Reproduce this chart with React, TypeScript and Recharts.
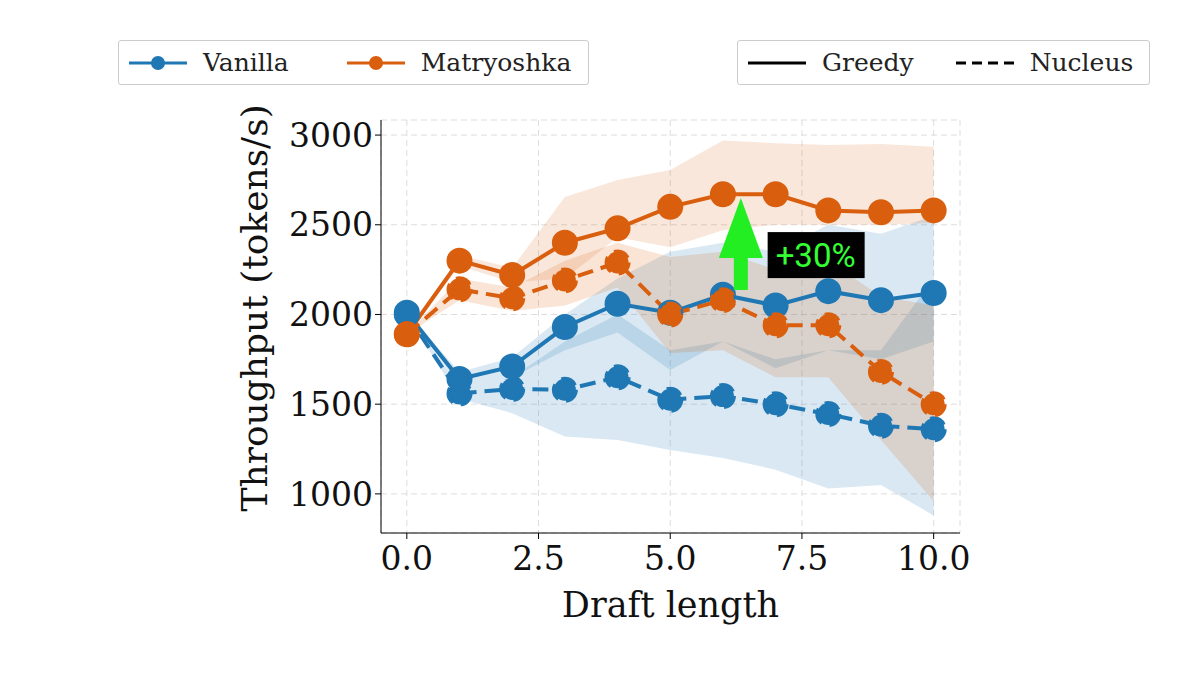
import React from "react";
import { ComposedChart, Line, Area, XAxis, YAxis, CartesianGrid, ReferenceDot } from "recharts";

const draftLen = [0, 1, 2, 3, 4, 5, 6, 7, 8, 9, 10];
const vanillaGreedy = [2010, 1640, 1710, 1930, 2060, 2010, 2110, 2050, 2130, 2080, 2120];
const vanillaNucleus = [2000, 1560, 1585, 1580, 1650, 1525, 1545, 1500, 1445, 1380, 1360];
const matGreedy = [1890, 2300, 2220, 2400, 2480, 2600, 2670, 2670, 2580, 2570, 2580];
const matNucleus = [1890, 2140, 2090, 2190, 2290, 2000, 2080, 1940, 1940, 1680, 1500];
const vgLo = [2010, 1600, 1650, 1800, 1900, 1690, 1850, 1700, 1800, 1750, 1850];
const vgHi = [2010, 1680, 1760, 2000, 2200, 2350, 2400, 2350, 2500, 2450, 2550];
const vnLo = [2000, 1530, 1450, 1320, 1300, 1245, 1200, 1135, 1030, 1050, 880];
const vnHi = [2000, 1600, 1650, 1850, 2000, 1800, 1850, 1750, 1800, 1800, 2200];
const mgLo = [1890, 2270, 2180, 2200, 2430, 2375, 2470, 2500, 2500, 2500, 2510];
const mgHi = [1890, 2330, 2260, 2655, 2750, 2805, 2970, 2955, 2945, 2950, 2935];
const mnLo = [1890, 2080, 2020, 2050, 2150, 1785, 1800, 1650, 1650, 1300, 960];
const mnHi = [1890, 2200, 2150, 2300, 2400, 2320, 2350, 2250, 2300, 2100, 2050];
const xTicks = [0, 2.5, 5, 7.5, 10];
const yTicks = [1000, 1500, 2000, 2500, 3000];

const BLUE = "#1f77b4";
const ORANGE = "#d95f0e";
const data = draftLen.map((x, i) => ({
  x, vg: vanillaGreedy[i], vn: vanillaNucleus[i], mg: matGreedy[i], mn: matNucleus[i],
  vgB: [vgLo[i], vgHi[i]], vnB: [vnLo[i], vnHi[i]], mgB: [mgLo[i], mgHi[i]], mnB: [mnLo[i], mnHi[i]],
}));

const font = "'DejaVu Serif', serif";

const Arrow = (p: any) => (
  <g>
    <rect x={p.cx - 7} y={p.cy - 2} width={14} height={34} fill="#22ee22" />
    <polygon points={`${p.cx - 22},${p.cy} ${p.cx + 22},${p.cy} ${p.cx},${p.cy - 60}`} fill="#22ee22" />
  </g>
);
const Label30 = (p: any) => (
  <g>
    <rect x={p.cx - 48} y={p.cy - 23} width={97} height={46} fill="#000" />
    <text x={p.cx} y={p.cy + 12} textAnchor="middle" fill="#33ff33" fontSize={33} fontFamily="Roboto, sans-serif">+30%</text>
  </g>
);

const legendBox: React.CSSProperties = {
  position: "absolute", top: 40, height: 45, border: "1px solid #ccc", borderRadius: 3, background: "#fff",
  display: "flex", alignItems: "center", fontFamily: font, fontSize: 25, color: "#222", boxSizing: "border-box",
};
const Item = ({ color, dash, dot, label }: any) => (
  <div style={{ display: "flex", alignItems: "center", marginLeft: 8, marginRight: 14 }}>
    <svg width={62} height={20}>
      <line x1={2} y1={10} x2={60} y2={10} stroke={color} strokeWidth={3} strokeDasharray={dash ? "10 6" : undefined} />
      {dot && <circle cx={31} cy={10} r={7} fill={color} />}
    </svg>
    <span style={{ marginLeft: 14 }}>{label}</span>
  </div>
);

export default function App() {
  return (
    <div style={{ position: "relative", width: 1200, height: 675, margin: -8, background: "#fff" }}>
      <div style={{ ...legendBox, left: 118, width: 471 }}>
        <Item color={BLUE} dot label="Vanilla" />
        <div style={{ width: 34 }} />
        <Item color={ORANGE} dot label="Matryoshka" />
      </div>
      <div style={{ ...legendBox, left: 737, width: 413 }}>
        <Item color="#000" label="Greedy" />
        <div style={{ width: 18 }} />
        <Item color="#000" dash label="Nucleus" />
      </div>
      <div style={{ position: "absolute", left: 0, top: 0 }}>
        <ComposedChart width={1200} height={675} data={data} margin={{ top: 120, right: 240, bottom: 52, left: 281 }}>
          <CartesianGrid stroke="#ddd" strokeDasharray="6 4" />
          <XAxis dataKey="x" type="number" domain={[-0.49, 10.5]} ticks={xTicks} tickFormatter={(v) => v.toFixed(1)}
            stroke="#000" tick={{ fill: "#111", fontSize: 33, fontFamily: font }} tickSize={6} tickMargin={8} height={90}
            label={{ value: "Draft length", position: "insideBottom", offset: 6, fill: "#111", fontSize: 35, fontFamily: font }} />
          <YAxis type="number" domain={[782, 3084]} ticks={yTicks} stroke="#000" width={100} tickSize={6}
            tick={{ fill: "#111", fontSize: 33, fontFamily: font }}
            label={{ value: "Throughput (tokens/s)", angle: -90, position: "insideLeft", offset: -27, dy: 185, fill: "#111", fontSize: 36, fontFamily: font }} />
          <Area dataKey="vnB" stroke="none" fill={BLUE} fillOpacity={0.17} isAnimationActive={false} />
          <Area dataKey="vgB" stroke="none" fill={BLUE} fillOpacity={0.17} isAnimationActive={false} />
          <Area dataKey="mnB" stroke="none" fill={ORANGE} fillOpacity={0.17} isAnimationActive={false} />
          <Area dataKey="mgB" stroke="none" fill={ORANGE} fillOpacity={0.15} isAnimationActive={false} />
          <Line dataKey="vn" stroke={BLUE} strokeWidth={4} strokeDasharray="16 8" dot={{ r: 11, fill: BLUE, stroke: BLUE }} isAnimationActive={false} />
          <Line dataKey="vg" stroke={BLUE} strokeWidth={4} dot={{ r: 11, fill: BLUE, stroke: BLUE }} isAnimationActive={false} />
          <Line dataKey="mn" stroke={ORANGE} strokeWidth={4} strokeDasharray="16 8" dot={{ r: 11, fill: ORANGE, stroke: ORANGE }} isAnimationActive={false} />
          <Line dataKey="mg" stroke={ORANGE} strokeWidth={4} dot={{ r: 11, fill: ORANGE, stroke: ORANGE }} isAnimationActive={false} />
          <ReferenceDot x={6.34} y={2315} r={0} shape={Arrow} />
          <ReferenceDot x={7.76} y={2331} r={0} shape={Label30} />
        </ComposedChart>
      </div>
    </div>
  );
}
